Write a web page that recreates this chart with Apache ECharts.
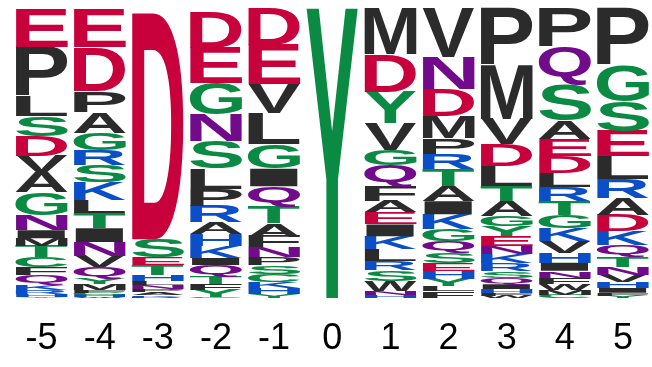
<!DOCTYPE html>
<html>
<head>
<meta charset="utf-8">
<script src="https://cdn.jsdelivr.net/npm/echarts@6/dist/echarts.min.js"></script>
<style>
  html, body { margin: 0; padding: 0; background: #ffffff; }
  #chart { width: 652px; height: 367px; }
</style>
</head>
<body>
<div id="chart"></div>
<script>
// Positions relative to the central residue
const positions = ['-5', '-4', '-3', '-2', '-1', '0', '1', '2', '3', '4', '5'];

// Residues at each position, listed from the top of the stack down, with frequency (%)
const res_m5  = ['E','P','L','S','D','V','A','G','N','I','M','T','C','F','Q','K','R','H','Y'];
const freq_m5 = [13.4,16.9,6.9,6.9,6.9,5.5,6.9,7.9,5.2,2.8,2.8,3.8,3.4,2.8,3.4,1.7,1.4,1.0,0.3];

const res_m4  = ['E','D','P','A','G','R','S','K','L','T','I','N','V','Q','Y','M','F','C','H','W'];
const freq_m4 = [13.4,15.2,7.2,7.2,5.9,5.2,5.9,6.2,4.5,5.2,4.8,4.8,3.8,3.8,2.1,2.1,1.0,0.7,0.7,0.3];

const res_m3  = ['D','S','E','T','H','L','N','P','A','K','R'];
const freq_m3 = [78.0,6.2,2.8,3.4,2.1,1.4,1.4,1.0,1.0,0.5,0.5];

const res_m2  = ['D','E','G','N','S','L','P','R','A','H','K','I','Q','T','F','Y','C'];
const freq_m2 = [12.4,12.1,10.7,9.3,9.3,7.2,5.9,5.5,4.1,4.1,4.1,2.4,3.8,2.8,2.1,2.4,0.3];

const res_m1  = ['D','E','V','L','G','I','Q','T','A','F','N','P','S','C','K','H','Y'];
const freq_m1 = [12.8,13.5,10.0,10.7,8.3,6.2,6.9,5.9,4.5,3.8,3.4,2.8,2.8,2.8,2.1,2.1,1.4];

const res_0   = ['Y'];
const freq_0  = [100];

const res_p1  = ['M','D','Y','V','G','Q','F','A','E','I','K','L','R','S','W','N','H'];
const freq_p1 = [16.2,12.8,11.0,9.3,5.2,7.2,5.2,3.8,4.1,4.1,4.5,4.1,3.1,3.8,3.4,1.4,1.0];

const res_p2  = ['V','N','D','M','P','R','T','A','I','K','G','Q','S','E','H','Y','L','F'];
const freq_p2 = [16.9,11.0,9.3,7.6,5.5,5.2,5.9,5.2,4.5,5.2,4.1,4.1,3.4,2.8,2.8,2.4,1.7,2.4];

const res_p3  = ['P','M','V','D','L','T','A','G','Y','E','N','K','R','S','Q','I','H','F','W'];
const freq_p3 = [19.7,18.6,8.6,7.6,6.9,5.2,5.2,3.4,3.4,3.4,2.8,3.1,2.8,2.4,2.1,1.7,1.4,1.0,0.7];

const res_p4  = ['P','Q','S','A','E','D','L','R','T','G','K','V','H','I','N','F','W','M','C'];
const freq_p4 = [13.4,13.1,12.4,6.2,5.9,5.9,4.8,4.8,4.8,4.5,4.5,4.1,3.4,2.8,2.4,2.1,2.1,1.7,1.1];

const res_p5  = ['P','G','S','E','L','R','A','D','K','Q','T','N','V','H','I','F','Y'];
const freq_p5 = [19.7,12.4,10.3,8.6,7.9,6.6,5.9,5.5,4.8,4.1,3.4,2.8,2.4,2.1,1.7,1.0,0.8];

const columns = [
  [res_m5, freq_m5], [res_m4, freq_m4], [res_m3, freq_m3], [res_m2, freq_m2],
  [res_m1, freq_m1], [res_0, freq_0], [res_p1, freq_p1], [res_p2, freq_p2],
  [res_p3, freq_p3], [res_p4, freq_p4], [res_p5, freq_p5]
];

// Chemistry colouring
const GREEN = '#0b8a44', PURPLE = '#720a8c', BLUE = '#0a4fc8', RED = '#c8003c', BLACK = '#2b2b2b';
function residueColor(r) {
  if ('GSTYC'.includes(r)) return GREEN;
  if ('NQ'.includes(r)) return PURPLE;
  if ('KRH'.includes(r)) return BLUE;
  if ('DE'.includes(r)) return RED;
  return BLACK;
}

// Build stacked [position, low, high] items, bottom of each stack first
const stackData = [];
const stackLetters = [];
columns.forEach(([res, freq], ci) => {
  let base = 0;
  for (let k = res.length - 1; k >= 0; k--) {
    stackData.push([ci, base, base + freq[k]]);
    stackLetters.push(res[k]);
    base += freq[k];
  }
});

// Ink box of each glyph, so a letter can be stretched to fill its cell exactly
const FONT = 'bold 100px "Liberation Sans"';
const mctx = document.createElement('canvas').getContext('2d');
mctx.font = FONT;
mctx.textAlign = 'center';
mctx.textBaseline = 'middle';
const inkCache = {};
function inkBox(ch) {
  if (!inkCache[ch]) {
    const m = mctx.measureText(ch);
    inkCache[ch] = {
      left: -m.actualBoundingBoxLeft,
      top: -m.actualBoundingBoxAscent,
      w: m.actualBoundingBoxLeft + m.actualBoundingBoxRight,
      h: m.actualBoundingBoxAscent + m.actualBoundingBoxDescent
    };
  }
  return inkCache[ch];
}

function renderLetter(params, api) {
  const ci = api.value(0);
  const lo = api.coord([ci, api.value(1)]);
  const hi = api.coord([ci, api.value(2)]);
  const cellH = lo[1] - hi[1];
  if (cellH < 0.4) return null;
  const cellW = api.size([1, 0])[0] * 0.9;
  const ch = stackLetters[params.dataIndex];
  const box = inkBox(ch);
  const sx = cellW / box.w;
  const sy = cellH / box.h;
  return {
    type: 'text',
    x: lo[0] - cellW / 2 - sx * box.left,
    y: hi[1] - sy * box.top,
    scaleX: sx,
    scaleY: sy,
    style: {
      text: ch,
      font: FONT,
      textAlign: 'center',
      textVerticalAlign: 'middle',
      fill: residueColor(ch)
    }
  };
}

const chart = echarts.init(document.getElementById('chart'), null, { renderer: 'canvas' });
chart.setOption({
  animation: false,
  backgroundColor: '#ffffff',
  grid: { left: 12.5, right: -9, top: 8, bottom: 69 },
  xAxis: {
    type: 'category',
    data: positions,
    axisLine: { show: false },
    axisTick: { show: false },
    splitLine: { show: false },
    axisLabel: {
      margin: 23,
      fontSize: 36,
      fontFamily: '"Liberation Sans", Arial, sans-serif',
      color: '#000000'
    }
  },
  yAxis: { type: 'value', min: 0, max: 100, show: false },
  series: [{
    type: 'custom',
    renderItem: renderLetter,
    encode: { x: 0, y: [1, 2] },
    data: stackData
  }]
});
</script>
</body>
</html>
